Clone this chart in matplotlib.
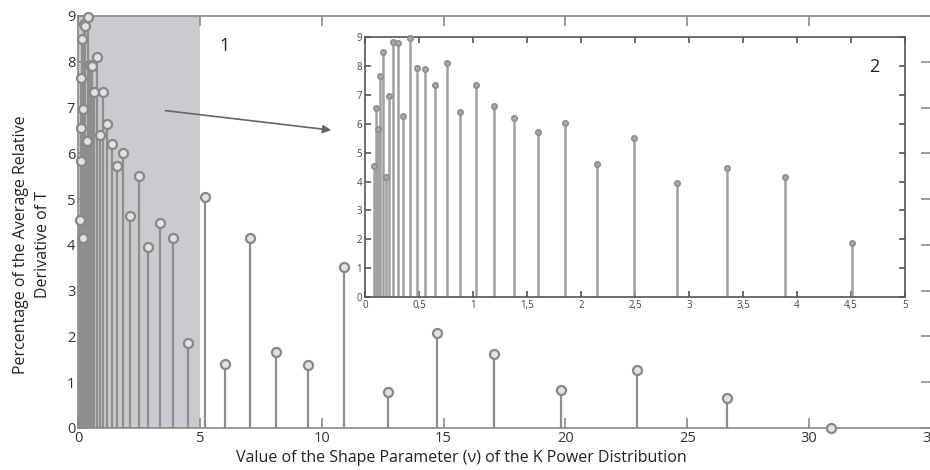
import matplotlib
matplotlib.use("Agg")
import matplotlib.pyplot as plt
from matplotlib.ticker import FuncFormatter

# Shape parameter values (v) and percentage of average relative derivative of T
shape_v = [0.084, 0.103, 0.119, 0.141, 0.166, 0.194, 0.222, 0.259, 0.303, 0.356,
           0.416, 0.478, 0.559, 0.650, 0.759, 0.884, 1.028, 1.190, 1.384, 1.606,
           1.852, 2.145, 2.490, 2.886, 3.355, 3.890, 4.510, 5.230, 6.050, 7.040,
           8.120, 9.420, 10.920, 12.700, 14.720, 17.050, 19.800, 22.950, 26.650, 30.900]
pct = [4.55, 6.56, 5.83, 7.65, 8.49, 4.15, 6.97, 8.83, 8.78, 6.27,
       8.98, 7.93, 7.90, 7.35, 8.10, 6.40, 7.35, 6.63, 6.20, 5.73,
       6.01, 4.62, 5.51, 3.95, 4.47, 4.14, 1.86, 5.05, 1.40, 4.16,
       1.66, 1.38, 3.52, 0.78, 2.07, 1.61, 0.84, 1.26, 0.66, 0.01]

main_xticks = [0, 5, 10, 15, 20, 25, 30, 35]
main_yticks = list(range(0, 10))
inset_xticks = [0, 0.5, 1, 1.5, 2, 2.5, 3, 3.5, 4, 4.5, 5]
inset_yticks = list(range(0, 10))

xlabel = "Value of the Shape Parameter (\u03bd) of the K Power Distribution"
ylabel = "Percentage of the Average Relative\nDerivative of T"

plt.rcParams['font.family'] = ['Open Sans', 'DejaVu Sans']

fig = plt.figure(figsize=(9.3, 4.7), dpi=100)
ax = fig.add_axes([0.0839, 0.0894, 0.9171, 0.8766])

stem_col = '#8e8e8e'
ax.axvspan(0, 5, color='#cbcbcf', zorder=0, lw=0)
ax.vlines(shape_v, 0, pct, colors=stem_col, linewidth=1.6, zorder=2)
ax.plot(shape_v, pct, 'o', ms=6.5, mfc='#e2e2e2', mec='#888888', mew=1.6, zorder=3,
        clip_on=False)
ax.set_xlim(0, 35)
ax.set_ylim(0, 9)
ax.set_xticks(main_xticks)
ax.set_yticks(main_yticks)
ax.tick_params(direction='in', top=True, right=True, length=7, width=1.2,
               color='#8a8a8a', labelsize=10.5, labelcolor='#333333', pad=2)
for s in ax.spines.values():
    s.set_color('#8a8a8a')
    s.set_linewidth(1.2)

ax.annotate('', xy=(10.5, 6.5), xytext=(3.47, 6.94),
            arrowprops=dict(arrowstyle='-|>', color='#666666', lw=1.2,
                            mutation_scale=12), zorder=4)
ax.text(6.0, 8.34, '1', fontsize=13, color='#222222', ha='center', va='center')

fig.text(0.496, 0.026, xlabel, ha='center', va='center', fontsize=11.5,
         color='#222222')
fig.text(0.034, 0.479, ylabel, ha='center', va='center', rotation=90,
         fontsize=11.5, color='#222222', multialignment='center', linespacing=1.5)

# Inset
ins = fig.add_axes([0.3925, 0.368, 0.5806, 0.553])
ins.set_facecolor('white')
mask = [v <= 5 for v in shape_v]
ix = [v for v, m in zip(shape_v, mask) if m]
iy = [p for p, m in zip(pct, mask) if m]
ins.vlines(ix, 0, iy, colors='#a0a0a0', linewidth=1.8, zorder=2)
ins.plot(ix, iy, 'o', ms=4, mfc='#a8a8a8', mec='#8a8a8a', mew=1.0, zorder=3,
         clip_on=False)
ins.set_xlim(0, 5)
ins.set_ylim(0, 9)
ins.set_xticks(inset_xticks)
ins.set_yticks(inset_yticks)
ins.xaxis.set_major_formatter(FuncFormatter(lambda v, p: ('%g' % v).replace('.', ',')))
ins.tick_params(direction='in', top=True, right=True, length=4, width=1.2,
                color='#555555', labelsize=7, labelcolor='#444444', pad=2)
for s in ins.spines.values():
    s.set_color('#555555')
    s.set_linewidth(1.2)
ins.text(4.72, 7.98, '2', fontsize=13, color='#222222', ha='center', va='center')

fig.savefig('out.png', dpi=100)
